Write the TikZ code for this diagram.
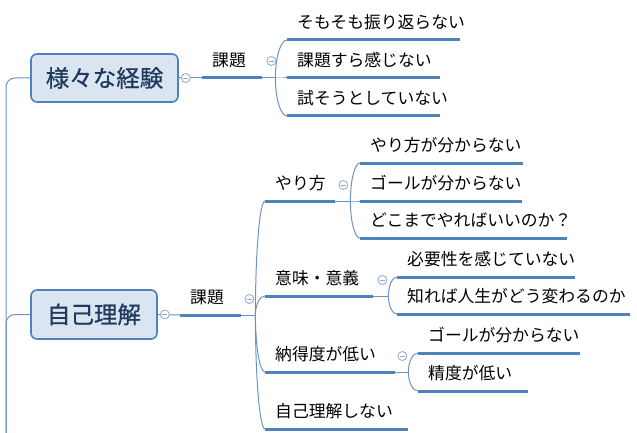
\documentclass[tikz,border=0pt]{standalone}
\usepackage{fontspec}
\setmainfont{Noto Sans CJK JP}
\newfontfamily\boxfont{Noto Sans CJK JP}[FakeBold=0.7]
\usetikzlibrary{calc}
\definecolor{linec}{HTML}{4F81BD}
\definecolor{thinc}{HTML}{6A93C6}
\definecolor{boxfill}{HTML}{DBE5F1}
\definecolor{boxtext}{HTML}{1F3A5F}
\definecolor{circc}{HTML}{8EA9CB}
\hfuzz=60pt
\hbadness=10000
\begin{document}
\begin{tikzpicture}[x=1pt,y=-1pt,
  topic/.style={anchor=south west, inner xsep=10pt, inner ysep=0pt,
    text height=13.5pt, text depth=11pt, align=left, text width=#1,
    font=\fontsize{16.8}{18}\selectfont},
  mainbox/.style={draw=linec, line width=1.6pt, fill=boxfill, rounded corners=6pt,
    inner sep=0pt, text=boxtext, text height=20.5pt, text depth=2.8pt,
    font=\boxfont\fontsize{23.5}{26}\selectfont},
  conn/.style={draw=thinc, line width=1pt},
  thickl/.style={draw=linec, line width=3pt},
  coll/.style={circle, draw=circc, fill=white, minimum size=9pt, inner sep=0pt, line width=0.8pt,
    path picture={\draw[circc, line width=0.8pt]
      ([xshift=-2.6pt]path picture bounding box.center) -- ([xshift=2.6pt]path picture bounding box.center);}}
]
\useasboundingbox (0,0) rectangle (637,433);

% main boxes
\node[mainbox, minimum width=147pt, minimum height=48pt] (b1) at (104.5,78) {様々な経験};
\node[mainbox, minimum width=126pt, minimum height=49pt] (b2) at (94,314.5) {自己理解};

% topics branch 1
\node[topic=40pt] (k1) at (202,78) {課題};
\node[topic=153pt] (a1) at (287,40) {そもそも振り返らない};
\node[topic=133pt] (a2) at (287,78) {課題すら感じない};
\node[topic=133pt] (a3) at (287,116) {試そうとしていない};

% topics branch 2
\node[topic=41pt] (k2) at (180,315) {課題};
\node[topic=50pt] (y0) at (265,201) {やり方};
\node[topic=143pt] (y1) at (360,163) {やり方が分からない};
\node[topic=142pt] (y2) at (360,201) {ゴールが分からない};
\node[topic=187pt] (y3) at (360,238) {どこまでやればいいのか？};
\node[topic=88pt] (m0) at (265,296) {意味・意義};
\node[topic=158pt] (m1) at (397,277) {必要性を感じていない};
\node[topic=213pt] (m2) at (397,314) {知れば人生がどう変わるのか};
\node[topic=110pt] (n0) at (265,372) {納得度が低い};
\node[topic=142pt] (n1) at (418,353) {ゴールが分からない};
\node[topic=90pt] (n2) at (418,391) {精度が低い};
\node[topic=123pt] (s0) at (265,429) {自己理解しない};

% root line
\coordinate (rt) at (6,433);
\draw[conn, rounded corners=9pt] (rt) |- (b1.west);
\draw[conn, rounded corners=9pt] (rt) |- (b2.west);

% box to topic
\draw[conn] (b1.east) -- (k1.south west);
\draw[conn] (b2.east) -- (k2.south west);

% brace points
\coordinate (k1b) at ($(k1.south east)+(13,0)$);
\coordinate (k2b) at ($(k2.south east)+(14,0)$);
\coordinate (y0b) at ($(y0.south east)+(15,0)$);
\coordinate (m0b) at ($(m0.south east)+(15,0)$);
\coordinate (n0b) at ($(n0.south east)+(13,0)$);
\foreach \p in {k1,k2,y0,m0,n0} \draw[conn] (\p.south east) -- (\p b);

\foreach \b/\c in {k1b/a1,k1b/a2,k1b/a3,k2b/y0,k2b/m0,k2b/n0,k2b/s0,
                   y0b/y1,y0b/y2,y0b/y3,m0b/m1,m0b/m2,n0b/n1,n0b/n2}
  \draw[conn] (\b) .. controls ($(\b)!0.55!(\b |- \c.south west)$)
     and ($(\c.south west)!0.55!(\b |- \c.south west)$) .. (\c.south west);

% thick underlines
\foreach \n in {k1,a1,a2,a3,k2,y0,y1,y2,y3,m0,m1,m2,n0,n1,n2,s0}
  \draw[thickl] (\n.south west) -- (\n.south east);

% collapse circles
\node[coll] (cb1) at ($(b1.east)+(7,0)$) {};
\node[coll] (cb2) at ($(b2.east)+(7,0)$) {};
\node[coll] (ck1) at ($(k1.south east)+(9,-17)$) {};
\node[coll] (ck2) at ($(k2.south east)+(8,-16)$) {};
\node[coll] (cy0) at ($(y0.south east)+(8,-16)$) {};
\node[coll] (cm0) at ($(m0.south east)+(9,-16)$) {};
\node[coll] (cn0) at ($(n0.south east)+(7,-16)$) {};
\end{tikzpicture}
\end{document}
